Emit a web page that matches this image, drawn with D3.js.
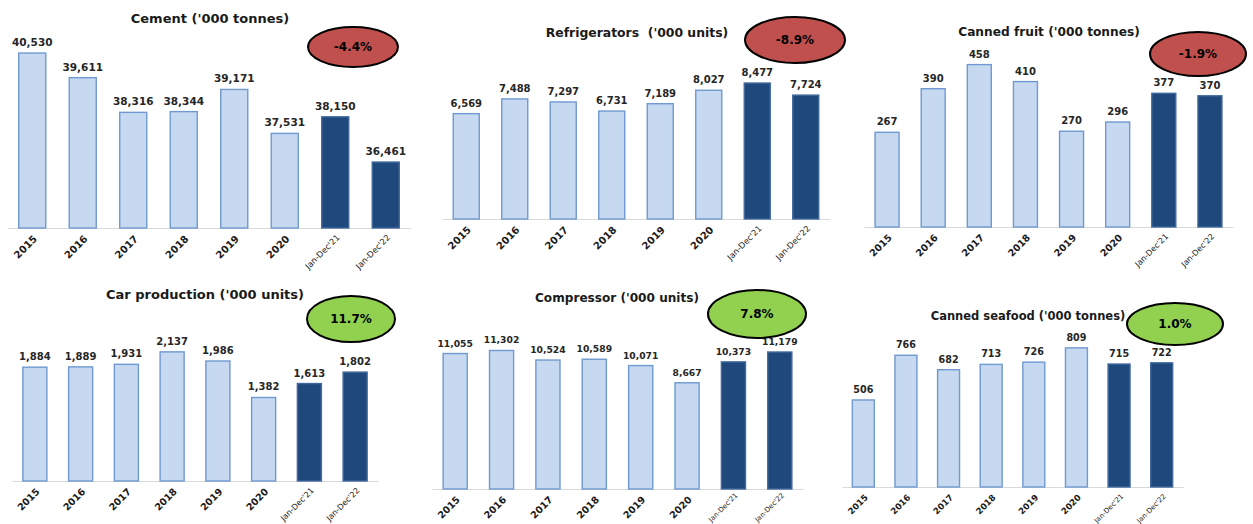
<!DOCTYPE html>
<html>
<head>
<meta charset="utf-8">
<script src="https://cdn.jsdelivr.net/npm/d3@7"></script>
<style>
  body { margin: 0; background: #fff; }
  svg { display: block; }
</style>
</head>
<body>
<div id="chart"></div>
<script>
/*
six small bar panels, industrial output 2015 - 2022
 */

//categories shared by every panel:
var categories = ["2015", "2016", "2017", "2018", "2019", "2020", "Jan-Dec'21", "Jan-Dec'22"];

//series values:
var cement = [40530, 39611, 38316, 38344, 39171, 37531, 38150, 36461];
var refrigerators = [6569, 7488, 7297, 6731, 7189, 8027, 8477, 7724];
var cannedFruit = [267, 390, 458, 410, 270, 296, 377, 370];
var carProduction = [1884, 1889, 1931, 2137, 1986, 1382, 1613, 1802];
var compressor = [11055, 11302, 10524, 10589, 10071, 8667, 10373, 11179];
var cannedSeafood = [506, 766, 682, 713, 726, 809, 715, 722];

var titles = ["Cement ('000 tonnes)", "Refrigerators  ('000 units)", "Canned fruit ('000 tonnes)",
    "Car production ('000 units)", "Compressor ('000 units)", "Canned seafood ('000 tonnes)"];
var changes = ["-4.4%", "-8.9%", "-1.9%", "11.7%", "7.8%", "1.0%"];
var series = [cement, refrigerators, cannedFruit, carProduction, compressor, cannedSeafood];

//where each panel sits (pixels), its value range and its font sizes
var layout = [
    {x0: 7, x1: 411, pad: 0.465, base: 228, yMin: 34000, yMax: 41465, fs: 10.5, tfs: 13, yr: 10, jan: 8.3, jdy: 8, tx: 210, ty: 23, ex: 353, ey: 47, rx: 45, ry: 20},
    {x0: 442, x1: 830, pad: 0.464, base: 219, yMin: 0, yMax: 12470, fs: 10, tfs: 12.4, yr: 10, jan: 8.3, jdy: 8, tx: 637, ty: 37, ex: 795, ey: 40, rx: 50, ry: 23},
    {x0: 864, x1: 1233, pad: 0.48, base: 227, yMin: 0, yMax: 564, fs: 10, tfs: 12.2, yr: 9.6, jan: 8, jdy: 8, tx: 1049, ty: 36, ex: 1198, ey: 54, rx: 48, ry: 22},
    {x0: 12, x1: 378, pad: 0.475, base: 481, yMin: 0, yMax: 3310, fs: 10, tfs: 13, yr: 9.6, jan: 8, jdy: 8, tx: 205, ty: 299, ex: 351, ey: 319, rx: 44, ry: 23},
    {x0: 432, x1: 803, pad: 0.48, base: 489, yMin: 0, yMax: 16320, fs: 9.2, tfs: 12.1, yr: 9.6, jan: 7, jdy: 5, tx: 617, ty: 302, ex: 757, ey: 314, rx: 49, ry: 24},
    {x0: 842, x1: 1183, pad: 0.485, base: 487, yMin: 0, yMax: 1163, fs: 9.6, tfs: 11.5, yr: 8.6, jan: 7, jdy: 8, tx: 1028, ty: 320, ex: 1175, ey: 324, rx: 48, ry: 21}
];

var width = 1253, height = 524;
var plotHeight = 200;
var fontFamily = "'DejaVu Sans', Verdana, sans-serif";
var fmt = d3.format(",");

var svg = d3.select("#chart")
    .append("svg")
    .attr("width", width)
    .attr("height", height)
    .style("font-family", fontFamily);

series.forEach(function (values, k) {
    var L = layout[k];
    var panel = svg.append("g").attr("class", "panel");

    //scales
    var x = d3.scaleBand()
        .domain(categories)
        .range([L.x0, L.x1])
        .paddingInner(L.pad)
        .paddingOuter(L.pad / 2);
    var y = d3.scaleLinear()
        .domain([L.yMin, L.yMax])
        .range([L.base, L.base - plotHeight]);

    //axis
    var axis = panel.append("g")
        .attr("transform", "translate(0," + L.base + ")")
        .call(d3.axisBottom(x).tickSize(0).tickSizeOuter(0));
    axis.select(".domain").attr("stroke", "#d9d9d9").attr("stroke-width", 1.2);
    axis.selectAll(".tick text")
        .attr("x", 0).attr("y", 0).attr("dy", "0.35em")
        .attr("text-anchor", "end")
        .style("font-family", fontFamily)
        .attr("fill", "#1a1a1a")
        .each(function (d) {
            var t = d3.select(this);
            if (d.indexOf("Jan") === 0) {
                t.attr("font-size", L.jan).attr("font-weight", "normal")
                    .attr("transform", "translate(3," + L.jdy + ") rotate(-45)");
            } else {
                t.attr("font-size", L.yr).attr("font-weight", "bold")
                    .attr("transform", "translate(3,9) rotate(-45)");
            }
        });

    //bars
    panel.selectAll(".bar")
        .data(values)
        .enter().append("rect")
        .attr("class", "bar")
        .attr("x", function (d, i) { return x(categories[i]); })
        .attr("width", x.bandwidth())
        .attr("y", function (d) { return y(d); })
        .attr("height", function (d) { return L.base - y(d); })
        .attr("fill", function (d, i) { return categories[i].indexOf("Jan") === 0 ? "#1f497d" : "#c6d9f1"; })
        .attr("stroke", function (d, i) { return categories[i].indexOf("Jan") === 0 ? "#41699d" : "#6f99d0"; })
        .attr("stroke-width", 1.4);

    //value labels
    panel.selectAll(".val")
        .data(values)
        .enter().append("text")
        .attr("class", "val")
        .attr("x", function (d, i) { return x(categories[i]) + x.bandwidth() / 2; })
        .attr("y", function (d) { return y(d) - 7; })
        .attr("text-anchor", "middle")
        .attr("font-size", L.fs)
        .attr("font-weight", "bold")
        .attr("fill", "#262626")
        .text(function (d) { return fmt(d); });

    //title
    panel.append("text")
        .attr("x", L.tx)
        .attr("y", L.ty)
        .attr("text-anchor", "middle")
        .attr("font-size", L.tfs)
        .attr("font-weight", "bold")
        .attr("fill", "#1a1a1a")
        .style("white-space", "pre")
        .text(titles[k]);

    //change badge
    var up = changes[k].charAt(0) !== "-";
    panel.append("ellipse")
        .attr("cx", L.ex).attr("cy", L.ey)
        .attr("rx", L.rx).attr("ry", L.ry)
        .attr("fill", up ? "#92d050" : "#c0504d")
        .attr("stroke", "#000")
        .attr("stroke-width", 2);
    panel.append("text")
        .attr("x", L.ex).attr("y", L.ey)
        .attr("dy", "0.35em")
        .attr("text-anchor", "middle")
        .attr("font-size", 12)
        .attr("font-weight", "bold")
        .attr("fill", "#000")
        .text(changes[k]);
});
</script>
</body>
</html>
